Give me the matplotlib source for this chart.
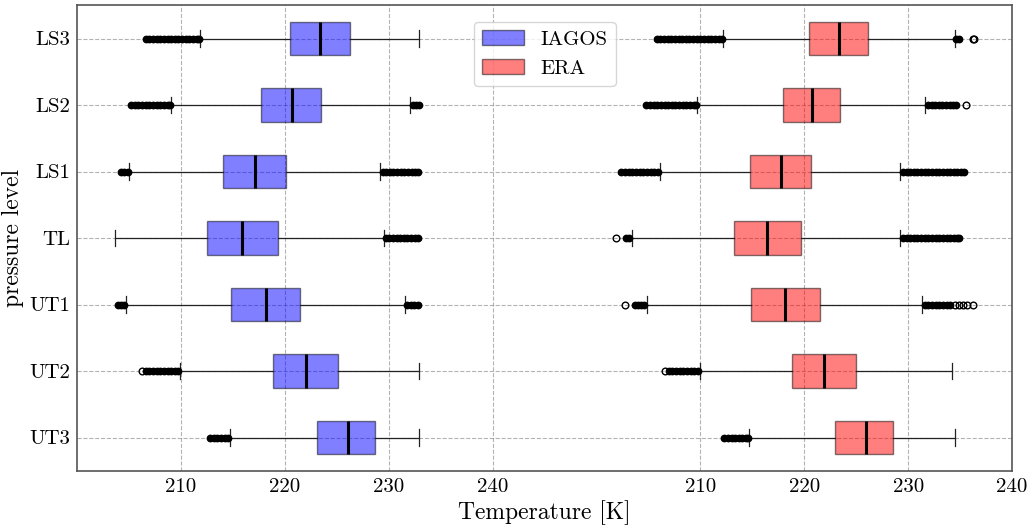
import matplotlib
import matplotlib.pyplot as plt
import numpy as np

matplotlib.use('Agg')

plt.rcParams['font.family'] = 'serif'
plt.rcParams['font.serif'] = ['cmr10', 'DejaVu Serif']
plt.rcParams['mathtext.fontset'] = 'cm'
plt.rcParams['axes.formatter.use_mathtext'] = True

# pressure levels, top to bottom as drawn
levels = ['LS3', 'LS2', 'LS1', 'TL', 'UT1', 'UT2', 'UT3']

# IAGOS box statistics [K]
iagos_q1 = [220.48, 217.69, 214.07, 212.53, 214.78, 218.88, 223.10]
iagos_med = [223.40, 220.64, 217.08, 215.87, 218.17, 222.02, 226.06]
iagos_q3 = [226.25, 223.43, 220.10, 219.30, 221.50, 225.13, 228.72]
iagos_lo = [211.83, 209.04, 204.97, 203.65, 204.70, 209.87, 214.68]
iagos_hi = [232.90, 232.08, 229.20, 229.50, 231.57, 232.90, 232.90]
# dense outliers
iagos_fliers = [
    [206.6, 206.95, 207.3, 207.65, 208.0, 208.35, 208.7, 209.05, 209.4, 209.75, 210.1,
     210.45, 210.8, 211.15, 211.5, 211.75],
    [205.2, 205.55, 205.9, 206.25, 206.6, 206.95, 207.3, 207.65, 208.0, 208.35, 208.7,
     208.95, 232.3, 232.6, 232.9],
    [204.2, 204.55, 204.85, 229.4, 229.75, 230.1, 230.45, 230.8, 231.15, 231.5, 231.85,
     232.2, 232.55, 232.85],
    [229.7, 230.05, 230.4, 230.75, 231.1, 231.45, 231.8, 232.15, 232.5, 232.85],
    [203.9, 204.2, 204.5, 231.75, 232.1, 232.45, 232.85],
    [206.6, 206.95, 207.3, 207.65, 208.0, 208.35, 208.7, 209.05, 209.4, 209.75],
    [212.8, 213.15, 213.5, 213.85, 214.2, 214.5],
]
# isolated outliers
iagos_single = [[], [], [], [], [], [206.25], []]

# ERA box statistics [K]
era_q1 = [220.50, 217.95, 214.81, 213.20, 214.84, 218.85, 223.00]
era_med = [223.34, 220.74, 217.76, 216.38, 218.17, 221.89, 225.93]
era_q3 = [226.15, 223.40, 220.61, 219.65, 221.47, 225.00, 228.53]
era_lo = [212.15, 209.68, 206.12, 203.40, 204.87, 210.00, 214.68]
era_hi = [234.55, 231.67, 229.26, 229.26, 231.35, 234.20, 234.52]
era_fliers = [
    [205.8, 206.15, 206.5, 206.85, 207.2, 207.55, 207.9, 208.25, 208.6, 208.95, 209.3,
     209.65, 210.0, 210.35, 210.7, 211.05, 211.4, 211.75, 212.05, 234.65, 234.85],
    [204.8, 205.15, 205.5, 205.85, 206.2, 206.55, 206.9, 207.25, 207.6, 207.95, 208.3,
     208.65, 209.0, 209.35, 209.6, 231.9, 232.25, 232.6, 232.95, 233.3, 233.65, 234.0,
     234.3, 234.6],
    [202.4, 202.75, 203.1, 203.45, 203.8, 204.15, 204.5, 204.85, 205.2, 205.55, 205.9,
     229.5, 229.85, 230.2, 230.55, 230.9, 231.25, 231.6, 231.95, 232.3, 232.65, 233.0,
     233.35, 233.7, 234.05, 234.4, 234.75, 235.05, 235.35],
    [202.85, 203.15, 229.5, 229.85, 230.2, 230.55, 230.9, 231.25, 231.6, 231.95, 232.3,
     232.65, 233.0, 233.35, 233.7, 234.05, 234.4, 234.7, 234.9],
    [203.7, 204.0, 204.3, 204.6, 231.6, 231.95, 232.3, 232.65, 233.0, 233.35, 233.7,
     234.05],
    [206.95, 207.3, 207.65, 208.0, 208.35, 208.7, 209.05, 209.4, 209.75],
    [212.3, 212.65, 213.0, 213.35, 213.7, 214.05, 214.4, 214.6],
]
era_single = [[236.2, 236.35], [235.55], [], [201.85], [202.7, 234.5, 234.9, 235.3, 235.7, 236.2],
              [206.6], []]

era_shift = 50  # ERA boxes drawn on the right half of the axis
tick_vals = [210, 220, 230, 240]


def make_stats(q1, med, q3, lo, hi, fliers, shift):
    stats = []
    for i in range(len(q1)):
        stats.append(dict(q1=q1[i] + shift, med=med[i] + shift, q3=q3[i] + shift,
                          whislo=lo[i] + shift, whishi=hi[i] + shift,
                          fliers=np.array(fliers[i]) + shift))
    return stats


fig, ax = plt.subplots(figsize=(10.29, 5.26), dpi=100)
fig.subplots_adjust(left=0.075, right=0.9835, bottom=0.105, top=0.99)

positions = np.arange(len(levels), 0, -1)

common = dict(positions=positions, widths=0.5, orientation='horizontal', patch_artist=True,
              medianprops=dict(color='black', linewidth=2.2),
              whiskerprops=dict(color='#222222', linewidth=0.9),
              capprops=dict(color='#222222', linewidth=0.9),
              flierprops=dict(marker='o', markersize=4.6, markerfacecolor='black',
                              markeredgecolor='black', markeredgewidth=1.0))

bp1 = ax.bxp(make_stats(iagos_q1, iagos_med, iagos_q3, iagos_lo, iagos_hi, iagos_fliers, 0),
             boxprops=dict(facecolor='blue', edgecolor='black', alpha=0.5, linewidth=1.0), **common)
bp2 = ax.bxp(make_stats(era_q1, era_med, era_q3, era_lo, era_hi, era_fliers, era_shift),
             boxprops=dict(facecolor='red', edgecolor='black', alpha=0.5, linewidth=1.0), **common)

for i, pos in enumerate(positions):
    if iagos_single[i]:
        ax.plot(iagos_single[i], [pos] * len(iagos_single[i]), 'o', ms=4.8, mfc='none',
                mec='black', mew=1.0)
    if era_single[i]:
        xs = [v + era_shift for v in era_single[i]]
        ax.plot(xs, [pos] * len(xs), 'o', ms=4.8, mfc='none', mec='black', mew=1.0)

ax.set_xlim(200, 290)
ax.set_ylim(0.5, len(levels) + 0.5)
ax.set_xticks(tick_vals + [t + era_shift for t in tick_vals])
ax.set_xticklabels([str(t) for t in tick_vals] * 2)
ax.set_yticks(positions)
ax.set_yticklabels(levels)
ax.tick_params(axis='both', length=0, labelsize=15, pad=5)

ax.grid(True, linestyle='--', color='gray', alpha=0.6, linewidth=0.8)
ax.set_axisbelow(True)
for s in ax.spines.values():
    s.set_color('#555555')
    s.set_linewidth(1.2)

ax.set_xlabel('Temperature [K]', fontsize=17, labelpad=3)
ax.set_ylabel('pressure level', fontsize=17, labelpad=4)

ax.legend([bp1['boxes'][0], bp2['boxes'][0]], ['IAGOS', 'ERA'], loc='upper center',
          fontsize=15, borderaxespad=0.8)

plt.savefig('out.png', dpi=100)
